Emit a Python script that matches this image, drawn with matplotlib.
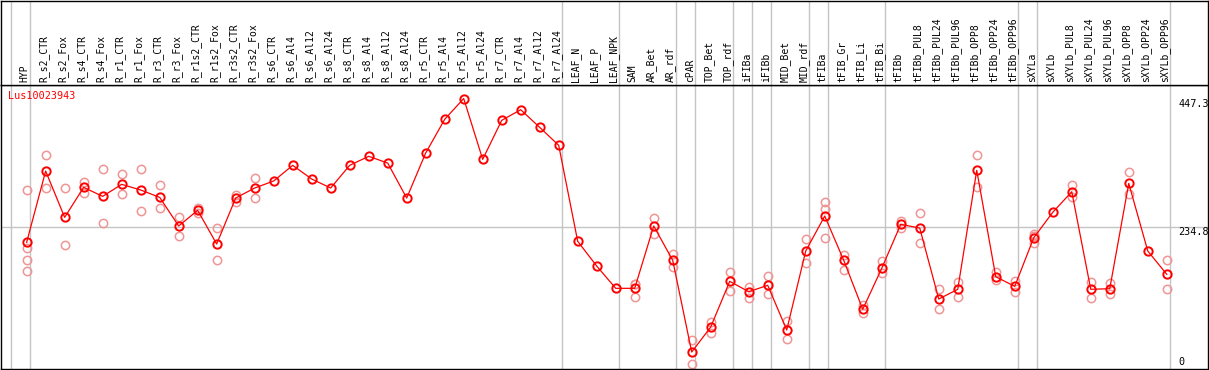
import matplotlib.pyplot as plt
import numpy as np

# sample names (x categories)
samples = ['HYP', 'R_s2_CTR', 'R_s2_Fox', 'R_s4_CTR', 'R_s4_Fox', 'R_r1_CTR',
           'R_r1_Fox', 'R_r3_CTR', 'R_r3_Fox', 'R_r1s2_CTR', 'R_r1s2_Fox',
           'R_r3s2_CTR', 'R_r3s2_Fox', 'R_s6_CTR', 'R_s6_Al4', 'R_s6_Al12',
           'R_s6_Al24', 'R_s8_CTR', 'R_s8_Al4', 'R_s8_Al12', 'R_s8_Al24',
           'R_r5_CTR', 'R_r5_Al4', 'R_r5_Al12', 'R_r5_Al24', 'R_r7_CTR',
           'R_r7_Al4', 'R_r7_Al12', 'R_r7_Al24', 'LEAF_N', 'LEAF_P', 'LEAF_NPK',
           'SAM', 'AR_Bet', 'AR_rdf', 'cPAR', 'TOP_Bet', 'TOP_rdf', 'iFIBa',
           'iFIBb', 'MID_Bet', 'MID_rdf', 'tFIBa', 'tFIB_Gr', 'tFIB_Li',
           'tFIB_Bi', 'tFIBb', 'tFIBb_PUL8', 'tFIBb_PUL24', 'tFIBb_PUL96',
           'tFIBb_OPP8', 'tFIBb_OPP24', 'tFIBb_OPP96', 'sXYLa', 'sXYLb',
           'sXYLb_PUL8', 'sXYLb_PUL24', 'sXYLb_PUL96', 'sXYLb_OPP8',
           'sXYLb_OPP24', 'sXYLb_OPP96']

# mean expression per sample
means = [209.5, 327.4, 250.8, 300.4, 285.5, 305.4, 296.0, 283.9, 236.5, 262.4,
         206.7, 282.7, 299.3, 310.9, 336.8, 314.2, 299.3, 336.8, 351.7, 340.6,
         282.7, 357.2, 412.9, 447.3, 346.7, 411.2, 428.8, 399.6, 369.9, 211.1,
         170.3, 133.4, 133.4, 236.5, 179.7, 28.1, 69.4, 145.0, 127.8, 138.4,
         64.5, 195.1, 253.0, 179.7, 98.7, 166.5, 239.2, 233.1, 115.7, 131.8,
         328.5, 152.6, 136.7, 217.1, 259.1, 293.2, 131.8, 132.8, 307.0, 195.1,
         156.6]

# individual replicates (empty = none shown)
replicates = [
    [295.5, 200.6, 179.7, 161.5], [353.4, 298.8], [298.8, 205.0],
    [309.2, 291.6], [330.2, 240.9], [321.9, 288.8], [330.2, 260.7],
    [303.7, 265.7], [250.8, 219.4], [266.8, 258.0], [232.6, 179.7],
    [287.2, 276.6], [315.8, 282.7],
    [], [], [], [], [], [], [], [], [], [], [], [], [], [], [], [], [], [], [],
    [140.5, 140.0, 119.6], [249.7, 223.7], [190.7, 168.2], [47.5, 7.8],
    [78.2, 60.0], [159.9, 128.5], [135.1, 117.4], [153.8, 123.5],
    [79.9, 49.6], [214.5, 175.3], [276.1, 264.0, 216.6], [189.0, 163.2],
    [105.3, 92.1], [178.6, 158.2], [244.7, 233.6], [257.4, 207.8],
    [131.8, 99.7], [143.9, 119.6], [353.4, 301.4], [159.9, 147.2],
    [146.0, 127.8], [220.4, 223.0, 207.8], [], [303.7, 284.4],
    [143.9, 117.9], [142.2, 124.5], [325.2, 289.4], [], [179.7, 131.8],
]

# group boundaries: separator drawn after these sample indices
group_ends = [-1, 0, 28, 31, 34, 35, 37, 38, 39, 41, 42, 45, 52, 53, 60]

gene = 'Lus10023943'

RED = '#ff0000'
PINK = '#ef9595'
GRID = '#c4c4c4'
MONO = 'DejaVu Sans Mono'

W, H = 1209, 370
fig = plt.figure(figsize=(W / 100, H / 100), dpi=100)

ax = fig.add_axes([1 / W, 1 / H, 1207 / W, 284 / H])
hdr = fig.add_axes([1 / W, 285 / H, 1207 / W, 84 / H])

x = np.arange(len(samples))
xlim = (-1.35, 62.17)
top = max(means) * 1.05

for a in (ax, hdr):
    a.set_xlim(*xlim)
    a.set_xticks([])
    a.set_yticks([])
    for s in a.spines.values():
        s.set_linewidth(1.0)
        s.set_color('black')
    for g in group_ends:
        a.axvline(g + 0.19, color=GRID, lw=1.0, zorder=0)

ax.set_ylim(0, top)
ax.axhline(top / 2, color=GRID, lw=1.0, zorder=0)

# replicates
for i, reps in enumerate(replicates):
    if reps:
        ax.plot([i] * len(reps), reps, 'o', ms=6, mfc='none', mec=PINK,
                mew=1.1, zorder=2)

# mean line
ax.plot(x, means, '-o', color=RED, lw=0.9, ms=6, mfc='none', mec=RED,
        mew=1.4, zorder=3)

ax.text(-1.0, top - 10, gene, color=RED, fontsize=7.3, family=MONO,
        ha='left', va='top')

# y labels at right
ax.text(60.6, max(means), f'{max(means):.1f}', fontsize=7.3, family=MONO,
        ha='left', va='top')
ax.text(60.6, top / 2, f'{top / 2:.1f}', fontsize=7.3, family=MONO,
        ha='left', va='top')
ax.text(60.6, 3, '0', fontsize=7.3, family=MONO, ha='left', va='bottom')

# header labels
hdr.set_ylim(0, 1)
for i, name in enumerate(samples):
    hdr.text(i - 0.1, 0.03, name, rotation=90, fontsize=7.0, family=MONO,
             ha='center', va='bottom')

fig.savefig('out.png', dpi=100, facecolor='white')
